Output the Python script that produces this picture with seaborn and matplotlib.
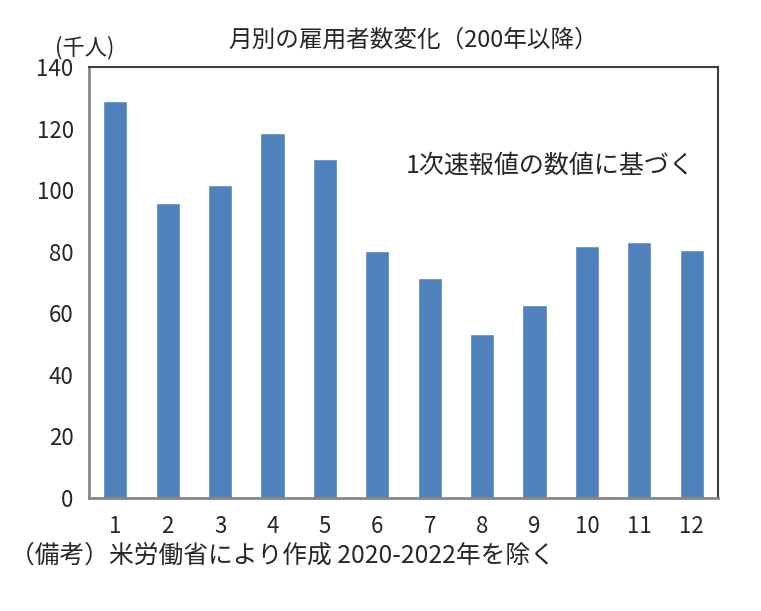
import matplotlib
matplotlib.use("Agg")
import matplotlib.pyplot as plt
import seaborn as sns
import pandas as pd

# 月別の雇用者数変化（千人）
months = [str(m) for m in range(1, 13)]
values = [128.9, 95.7, 101.6, 118.5, 110.0, 80.1, 71.6, 53.4, 62.8, 81.7, 83.0, 80.4]
yticks = [0, 20, 40, 60, 80, 100, 120, 140]

df = pd.DataFrame({"month": months, "value": values})

sns.set_style("white")
plt.rcParams['font.family'] = ['Noto Sans CJK JP', 'DejaVu Sans']

fig = plt.figure(figsize=(7.61, 6.11), dpi=100)
ax = fig.add_axes([89 / 761, 1 - 498 / 611, 629 / 761, 431 / 611])

sns.barplot(data=df, x="month", y="value", color="#4F81BD", width=0.46,
            saturation=1, ax=ax)

ax.set_ylim(0, 140)
ax.set_yticks(yticks)
ax.set_xlim(-0.5, 11.5)
ax.set_xlabel("")
ax.set_ylabel("")
ax.tick_params(axis="y", labelsize=16, length=7, width=1.5, color="#868686",
               direction="out", pad=4)
ax.tick_params(axis="x", labelsize=16, length=0, pad=12)

for side in ["left", "bottom"]:
    ax.spines[side].set_color("#868686")
    ax.spines[side].set_linewidth(2)
for side in ["top", "right"]:
    ax.spines[side].set_color("#404040")
    ax.spines[side].set_linewidth(1.5)

fig.text(413 / 761, 1 - 40 / 611, "月別の雇用者数変化（200年以降）", ha="center", va="center", fontsize=17)
fig.text(55 / 761, 1 - 48 / 611, "(千人)", ha="left", va="center", fontsize=16)
ax.text((695 - 89) / 629, 0.77, "1次速報値の数値に基づく", transform=ax.transAxes,
        ha="right", va="center", fontsize=18)
fig.text(10 / 761, 1 - 556 / 611, "（備考）米労働省により作成 2020-2022年を除く",
         ha="left", va="center", fontsize=17.8)

fig.savefig("out.png", dpi=100)
